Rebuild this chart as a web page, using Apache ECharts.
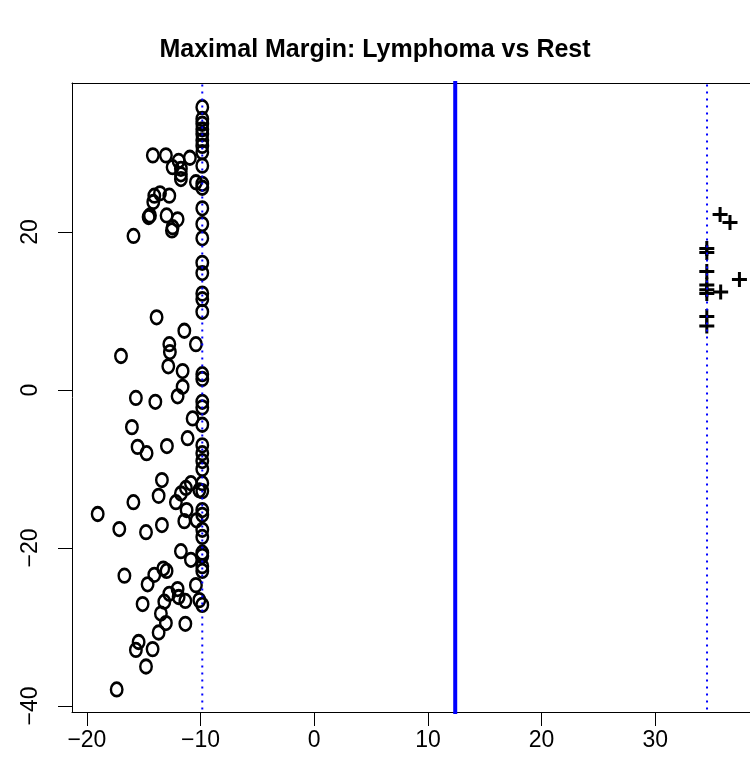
<!DOCTYPE html>
<html>
<head>
<meta charset="utf-8">
<script src="https://cdn.jsdelivr.net/npm/echarts@6/dist/echarts.min.js"></script>
<style>
html,body{margin:0;padding:0;background:#fff;}
#chart{width:750px;height:772px;}
</style>
</head>
<body>
<div id="chart"></div>
<script>
// ---- data ----
const titleText = 'Maximal Margin: Lymphoma vs Rest';
const xTicks = [-20, -10, 0, 10, 20, 30];
const yTicks = [-40, -20, 0, 20];

// "Rest" observations (drawn as O)
const restX = [
  -14.2, -13.05, -11.93, -10.94, -12.46, -11.73, -11.73, -11.73, -10.41, -14.07,
  -13.57, -12.75, -14.16, -14.45, -14.57, -12.99, -12.02, -12.46, -12.52, -15.9,
  -13.87, -11.43, -10.41, -12.75, -12.7, -17.0, -12.84, -11.58, -11.58, -15.69,
  -13.98, -12.02, -10.7, -16.04, -11.14, -15.54, -14.75, -12.96, -13.4, -10.85,
  -11.29, -11.73, -12.17, -13.69, -10.11, -15.91, -19.05, -11.23, -11.43, -10.35,
  -13.4, -17.15, -14.8, -11.73, -10.85, -13.28, -12.99, -14.07, -16.7, -14.66,
  -10.41, -12.02, -12.75, -11.93, -13.19, -11.34, -15.1, -10.11, -13.49, -13.05,
  -11.34, -13.69, -15.45, -15.69, -14.22, -14.8, -17.38
];
const restY = [
  29.7, 29.7, 29.0, 29.4, 28.2, 28.0, 27.3, 26.7, 26.3, 24.6,
  24.9, 24.6, 23.8, 22.1, 21.9, 22.1, 21.6, 20.6, 20.2, 19.5,
  9.2, 7.5, 5.8, 5.8, 4.8, 4.3, 3.0, 2.4, 0.4, -1.0,
  -1.5, -0.8, -3.6, -4.7, -6.1, -7.2, -8.0, -7.1, -11.4, -11.8,
  -12.4, -13.1, -14.2, -13.4, -12.7, -14.2, -15.7, -15.2, -16.6, -16.5,
  -17.1, -17.6, -18.0, -20.4, -21.5, -22.6, -22.9, -23.4, -23.5, -24.6,
  -24.7, -25.2, -25.8, -26.2, -26.8, -26.7, -27.1, -26.6, -28.3, -29.5,
  -29.6, -30.7, -31.9, -32.9, -32.8, -35.0, -37.9
];
// "Rest" observations lying on the margin (x about -9.85)
const marginRestX = -9.85;
const marginRestY = [
  35.8, 34.3, 33.7, 33.0, 32.4, 31.6, 30.9, 30.1, 28.4, 26.1,
  25.6, 23.0, 21.0, 19.2, 16.1, 14.8, 12.2, 11.5, 9.9, 2.0,
  1.4, -1.5, -2.2, -4.4, -7.0, -8.0, -9.0, -10.0, -11.8, -12.8,
  -15.2, -15.8, -17.7, -18.6, -20.6, -21.0, -22.3, -22.9, -27.2
];
// Lymphoma observations (drawn as +)
const lymphX = [35.7, 36.57, 34.53, 34.53, 34.53, 34.53, 34.53, 34.53, 35.75, 37.4, 34.53, 34.53];
const lymphY = [22.2, 21.2, 17.9, 17.4, 15.0, 13.3, 12.7, 12.2, 12.4, 14.0, 9.3, 8.1];

// separating hyperplane and margins
const hyperplaneX = 12.4;
const marginLeftX = -9.85;
const marginRightX = 34.55;

// visible axis window (plot box runs past the right edge of the picture)
const xRange = [-21.31, 38.33];
const yRange = [-40.76, 38.86];

// ---- chart ----
const restData = restX.map((x, i) => [x, restY[i]])
  .concat(marginRestY.map(y => [marginRestX, y]));
const lymphData = lymphX.map((x, i) => [x, lymphY[i]]);
const minus = v => String(v).replace('-', '\u2212');
const vline = (x, style) => ({
  type: 'line', data: [[x, yRange[0] - 5], [x, yRange[1] + 5]],
  symbol: 'none', silent: true, z: 5, animation: false,
  lineStyle: style
});

const FONT = '"Liberation Sans", Arial, Helvetica, sans-serif';
const chart = echarts.init(document.getElementById('chart'), null, {renderer: 'canvas'});
chart.setOption({
  animation: false,
  backgroundColor: '#ffffff',
  title: {
    text: titleText, left: 'center', top: 33,
    textStyle: {fontFamily: FONT, fontWeight: 'bold', fontSize: 25, color: '#000'}
  },
  grid: {left: 72, top: 83, right: 0, height: 629, show: false, containLabel: false},
  xAxis: [{
    type: 'value', min: xRange[0], max: xRange[1],
    splitLine: {show: false},
    axisLine: {show: true, onZero: false, lineStyle: {color: '#000', width: 1}},
    axisTick: {show: true, length: 14, customValues: xTicks, lineStyle: {color: '#000'}},
    axisLabel: {customValues: xTicks, formatter: minus, margin: 17,
                fontFamily: FONT, fontSize: 23, color: '#000'}
  }, {
    type: 'value', position: 'top', min: xRange[0], max: xRange[1],
    splitLine: {show: false},
    axisLine: {show: true, onZero: false, lineStyle: {color: '#000', width: 1}},
    axisTick: {show: false}, axisLabel: {show: false}
  }],
  yAxis: {
    type: 'value', min: yRange[0], max: yRange[1],
    splitLine: {show: false},
    axisLine: {show: true, onZero: false, lineStyle: {color: '#000', width: 1}},
    axisTick: {show: true, length: 14, customValues: yTicks, lineStyle: {color: '#000'}},
    axisLabel: {customValues: yTicks, formatter: minus, rotate: 90, margin: 30,
                fontFamily: FONT, fontSize: 23, color: '#000'}
  },
  series: [
    {
      type: 'scatter', data: restData, symbol: 'circle', symbolSize: [11.5, 13.5],
      itemStyle: {color: 'rgba(0,0,0,0)', borderColor: '#000', borderWidth: 2.6, opacity: 1},
      z: 3, silent: true
    },
    {
      type: 'scatter', data: lymphData,
      symbol: 'path://M0,6H6V0H9V6H15V9H9V15H6V9H0Z', symbolSize: 15,
      itemStyle: {color: '#000', opacity: 1}, z: 3, silent: true
    },
    vline(hyperplaneX, {color: '#0000ff', width: 4, type: 'solid'}),
    vline(marginLeftX, {color: '#0000ff', width: 2, type: [2, 5]}),
    vline(marginRightX, {color: '#0000ff', width: 2, type: [2, 5]})
  ]
});
</script>
</body>
</html>
